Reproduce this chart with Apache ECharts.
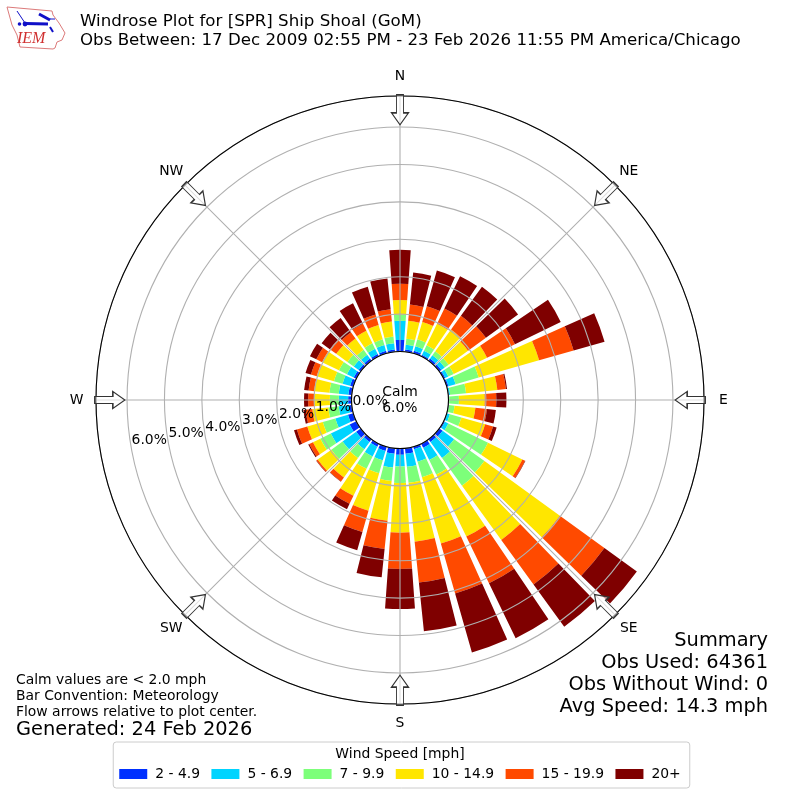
<!DOCTYPE html>
<html>
<head>
<meta charset="utf-8">
<style>html,body{margin:0;padding:0;background:#fff}#chart{width:800px;height:800px}</style>
<script src="https://cdn.jsdelivr.net/npm/echarts@6/dist/echarts.min.js"></script>
</head>
<body>
<div id="chart"></div>
<script>
var directions = [0,10,20,30,40,50,60,70,80,90,100,110,120,130,140,150,160,170,180,190,200,210,220,230,240,250,260,270,280,290,300,310,320,330,340,350];
var speed2to5 = [.31,.06,.07,.05,.07,.07,.05,.05,.01,.01,.01,.01,.04,.11,.09,.12,.07,.15,.17,.15,.12,.09,.09,.15,.20,.15,.07,.09,.09,.09,.08,.07,.07,.07,.07,.06];
var speed5to7 = [.51,.13,.13,.12,.11,.11,.09,.20,.04,.01,.01,.08,.10,.38,.53,.37,.35,.35,.31,.37,.26,.29,.24,.45,.56,.35,.28,.25,.26,.21,.20,.16,.13,.16,.16,.17];
var speed7to10 = [.16,.16,.19,.16,.13,.13,.16,.64,.43,.26,.15,.32,1.18,1.00,.91,.43,.43,.43,.44,.36,.36,.37,.29,.37,.31,.35,.28,.24,.25,.24,.24,.21,.16,.16,.16,.18];
var speed10to15 = [.40,.48,.48,.64,.72,.64,.99,1.68,.84,.69,.56,.66,1.02,2.49,1.79,1.84,1.84,1.58,1.33,1.07,1.04,.80,.64,.45,.22,.43,.43,.42,.41,.48,.50,.37,.37,.37,.40,.40];
var speed15to20 = [.43,.44,.44,.45,.45,.59,.83,.96,.23,.31,.31,.22,.08,1.47,1.47,1.39,1.39,1.10,.97,.76,.59,.24,.13,.04,.11,.29,.18,.16,.15,.16,.17,.21,.21,.21,.29,.33];
var speed20up = [.91,.86,.99,.96,.96,1.06,1.36,.86,.03,.27,.24,.10,.01,1.07,1.40,1.63,1.64,1.31,1.07,.76,.51,.16,.01,.01,.03,.08,.06,.11,.12,.15,.19,.27,.47,.61,.77,.83];

var speedNames = ['2 - 4.9','5 - 6.9','7 - 9.9','10 - 14.9','15 - 19.9','20+'];
var speedColors = ['#0030ff','#00d4ff','#7dff7a','#ffe600','#ff4a00','#7f0000'];
var speedValues = [speed2to5,speed5to7,speed7to10,speed10to15,speed15to20,speed20up];

var compassNames = ['N','NE','E','SE','S','SW','W','NW'];
var compassAngles = [0,45,90,135,180,225,270,315];
var radialTicks = [0,1,2,3,4,5,6];
var summaryLines = ['Summary','Obs Used: 64361','Obs Without Wind: 0','Avg Speed: 14.3 mph'];

var arrowPath = 'path://M5 0 L12 0 L12 18 L17 18 L8.5 30 L0 18 L5 18 Z';
var rMax = 6.83;

var series = [];
for (var s = 0; s < speedNames.length; s++) {
    var rows = [];
    for (var d = 0; d < directions.length; d++) {
        rows.push([speedValues[s][d], directions[d]]);
    }
    series.push({
        name: speedNames[s],
        type: 'bar',
        coordinateSystem: 'polar',
        stack: 'wind',
        barWidth: 8.2,
        z: 2,
        itemStyle: {color: speedColors[s]},
        data: rows
    });
}

// flow arrows, pointing at the plot center, and the compass names outside the ring
var arrowRows = [], compassRows = [];
for (var a = 0; a < compassAngles.length; a++) {
    var rad = compassAngles[a] * Math.PI / 180;
    arrowRows.push({value: [6.46, compassAngles[a]], symbolRotate: -compassAngles[a]});
    compassRows.push({
        value: [rMax, compassAngles[a]],
        name: compassNames[a],
        label: {offset: [19.5 * Math.sin(rad), -19.5 * Math.cos(rad)]}
    });
}
series.push({
    type: 'scatter',
    coordinateSystem: 'polar',
    symbol: arrowPath,
    symbolSize: [17, 30],
    z: 6,
    silent: true,
    itemStyle: {opacity: 1, color: 'rgba(255,255,255,0.6)', borderColor: '#333', borderWidth: 1.2},
    data: arrowRows
});
series.push({
    type: 'scatter',
    coordinateSystem: 'polar',
    symbolSize: 1,
    z: 7,
    silent: true,
    clip: false,
    itemStyle: {opacity: 1, color: 'rgba(0,0,0,0)'},
    label: {
        show: true,
        position: 'inside',
        color: '#000',
        textBorderWidth: 0,
        fontFamily: 'DejaVu Sans',
        fontSize: 13.9,
        formatter: function (p) { return p.name; }
    },
    data: compassRows
});

// radial tick labels
var tickRows = [];
for (var t = 0; t < radialTicks.length; t++) {
    tickRows.push([radialTicks[t], 260]);
}
series.push({
    type: 'scatter',
    coordinateSystem: 'polar',
    symbolSize: 1,
    z: 7,
    silent: true,
    clip: false,
    itemStyle: {opacity: 1, color: 'rgba(0,0,0,0)'},
    label: {
        show: true,
        position: 'inside',
        offset: [18, -7.5],
        color: '#000',
        textBorderWidth: 0,
        fontFamily: 'DejaVu Sans',
        fontSize: 13.9,
        formatter: function (p) { return p.value[0].toFixed(1) + '%'; }
    },
    data: tickRows
});

var graphics = [
    {type: 'text', z: 20, left: 80, top: 12, style: {text: 'Windrose Plot for [SPR] Ship Shoal (GoM)\nObs Between: 17 Dec 2009 02:55 PM - 23 Feb 2026 11:55 PM America/Chicago', font: '16.67px "DejaVu Sans"', lineHeight: 19, fill: '#000'}},
    {type: 'text', z: 20, left: 'center', top: 384, style: {text: 'Calm\n6.0%', align: 'center', font: '13.9px "DejaVu Sans"', lineHeight: 16, fill: '#000'}},
    {type: 'text', z: 20, left: 16, top: 672, style: {text: 'Calm values are < 2.0 mph\nBar Convention: Meteorology\nFlow arrows relative to plot center.', font: '13.9px "DejaVu Sans"', lineHeight: 16, fill: '#000'}},
    {type: 'text', z: 20, left: 16, top: 720, style: {text: 'Generated: 24 Feb 2026', font: '19.4px "DejaVu Sans"', fill: '#000'}},
    {type: 'text', z: 20, left: 'center', top: 747, style: {text: 'Wind Speed [mph]', font: '13.9px "DejaVu Sans"', fill: '#000'}},
    // IEM logo
    {type: 'polygon', z: 20, shape: {points: [[7,7],[52,11],[53,15],[59,23],[65,33],[62,40],[57,42],[55,48],[53,49],[20,47],[17,35],[12,25]]}, style: {fill: '#fff', stroke: '#dc7a7a', lineWidth: 1}},
    {type: 'polyline', z: 21, shape: {points: [[25,23.5],[48,24]]}, style: {stroke: '#1010c8', lineWidth: 3, fill: 'none'}},
    {type: 'polyline', z: 21, shape: {points: [[39,14],[50,20]]}, style: {stroke: '#1010c8', lineWidth: 3, fill: 'none'}},
    {type: 'polyline', z: 21, shape: {points: [[50,19],[55,19]]}, style: {stroke: '#1010c8', lineWidth: 1, fill: 'none'}},
    {type: 'polyline', z: 21, shape: {points: [[17,11],[21,17],[25,23]]}, style: {stroke: '#1010c8', lineWidth: 1, fill: 'none'}},
    {type: 'polyline', z: 21, shape: {points: [[50,27],[53,32]]}, style: {stroke: '#1010c8', lineWidth: 2, fill: 'none'}},
    {type: 'circle', z: 21, shape: {cx: 25, cy: 24, r: 2.4}, style: {fill: '#1010c8'}},
    {type: 'circle', z: 21, shape: {cx: 19.5, cy: 24, r: 1.8}, style: {fill: '#1010c8'}},
    {type: 'text', z: 21, left: 17, top: 31, style: {text: 'IEM', font: 'italic 16px "Liberation Serif"', fill: '#d03030'}}
];
for (var l = 0; l < summaryLines.length; l++) {
    graphics.push({type: 'text', z: 20, right: 32, top: 631 + l * 22, style: {text: summaryLines[l], font: '19.4px "DejaVu Sans"', fill: '#000'}});
}

var myChart = echarts.init(document.getElementById('chart'), null, {renderer: 'canvas'});
var option = {
    animation: false,
    backgroundColor: '#fff',
    polar: {center: [400, 400], radius: [48.5, 304]},
    angleAxis: {
        type: 'value',
        min: 0,
        max: 360,
        interval: 45,
        startAngle: 90,
        clockwise: true,
        z: 5,
        axisLine: {lineStyle: {color: '#000', width: 1.1}},
        axisTick: {show: false},
        axisLabel: {show: false},
        splitLine: {show: true, lineStyle: {color: '#b0b0b0', width: 1.1}}
    },
    radiusAxis: {
        type: 'value',
        min: 0,
        max: rMax,
        interval: 1,
        z: 5,
        axisLine: {show: false},
        axisTick: {show: false},
        axisLabel: {show: false},
        splitLine: {show: true, lineStyle: {color: '#b0b0b0', width: 1.1}}
    },
    legend: {
        data: speedNames,
        left: 'center',
        top: 742,
        icon: 'rect',
        itemWidth: 28,
        itemHeight: 10,
        itemGap: 11.4,
        padding: [25, 9, 7, 6],
        backgroundColor: '#fff',
        borderColor: '#ccc',
        borderWidth: 1,
        borderRadius: 3,
        textStyle: {color: '#000', fontFamily: 'DejaVu Sans', fontSize: 13.9, padding: [0, 0, 0, 3]}
    },
    graphic: graphics,
    series: series
};
myChart.setOption(option);
</script>
</body>
</html>
